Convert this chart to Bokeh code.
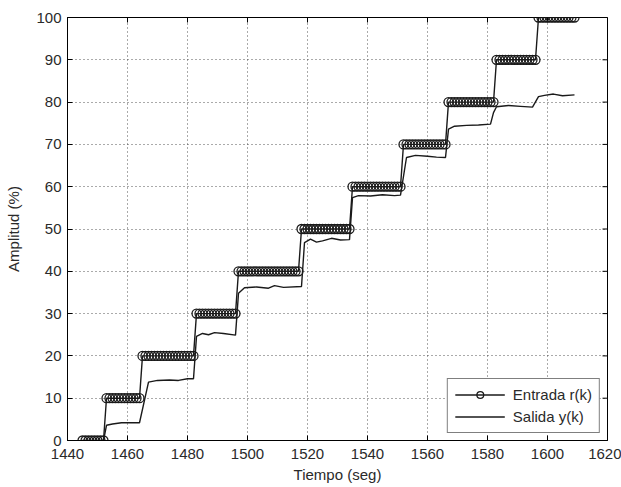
import math
from bokeh.plotting import figure
from bokeh.models import Range1d, FixedTicker, Legend, LegendItem
from bokeh.embed import file_html
from bokeh.resources import INLINE

# ---- data ----
# input r(k): step levels and the sample time where each level starts (1 s sampling)
r_levels = [0, 10, 20, 30, 40, 50, 60, 70, 80, 90, 100]
r_starts = [1445, 1453, 1465, 1483, 1497, 1518, 1535, 1552, 1567, 1583, 1597]
r_last = 1609

# output y(k): breakpoints of the measured response
y_t = [1445, 1452, 1453, 1455, 1458, 1464, 1467, 1470, 1474, 1477, 1480, 1482,
       1483, 1485, 1487, 1489, 1492, 1496,
       1497, 1499, 1503, 1507, 1509, 1512, 1518,
       1519, 1521, 1523, 1525, 1528, 1531, 1534,
       1535, 1537, 1541, 1545, 1549, 1551,
       1553, 1556, 1560, 1563, 1566,
       1567, 1569, 1573, 1577, 1581,
       1582, 1583, 1587, 1591, 1595,
       1597, 1599, 1602, 1605, 1609]
y_v = [0, 0, 3.6, 3.9, 4.2, 4.2, 13.8, 14.2, 14.3, 14.2, 14.6, 14.6,
       24.6, 25.3, 25.0, 25.5, 25.3, 24.9,
       34.8, 36.1, 36.3, 36.0, 36.6, 36.2, 36.4,
       46.8, 47.6, 46.9, 47.2, 47.8, 47.4, 47.5,
       57.4, 57.9, 57.8, 58.1, 57.9, 58.0,
       66.9, 67.4, 67.2, 67.0, 66.9,
       73.6, 74.3, 74.5, 74.6, 74.8,
       77.5, 78.9, 79.2, 79.0, 78.8,
       81.3, 81.6, 81.9, 81.5, 81.7]

x_ticks = [1440, 1460, 1480, 1500, 1520, 1540, 1560, 1580, 1600, 1620]
y_ticks = [0, 10, 20, 30, 40, 50, 60, 70, 80, 90, 100]
x_min, x_max = 1440, 1620
y_min, y_max = 0, 100

# expand the step input into its samples
r_t, r_v = [], []
for i, (lv, st) in enumerate(zip(r_levels, r_starts)):
    en = r_starts[i + 1] - 1 if i + 1 < len(r_starts) else r_last
    for t in range(st, en + 1):
        r_t.append(t)
        r_v.append(lv)

FONT = "Liberation Sans"
TXT = "#2a2a2a"
INK = "#1a1a1a"

p = figure(width=621, height=487, x_range=Range1d(x_min, x_max), y_range=Range1d(y_min, y_max),
           output_backend="svg", toolbar_location=None,
           min_border_left=67, min_border_right=14, min_border_top=17, min_border_bottom=47)

p.outline_line_color = "black"
p.outline_line_alpha = 1.0

for ax, tk in ((p.xaxis[0], x_ticks), (p.yaxis[0], y_ticks)):
    ax.ticker = FixedTicker(ticks=tk)
    ax.major_tick_in = 5
    ax.major_tick_out = 0
    ax.minor_tick_line_color = None
    ax.axis_line_color = "black"
    ax.major_tick_line_color = "black"
    ax.major_label_text_font = FONT
    ax.major_label_text_font_size = "15px"
    ax.major_label_text_color = TXT
    ax.axis_label_text_font = FONT
    ax.axis_label_text_font_size = "15px"
    ax.axis_label_text_font_style = "normal"
    ax.axis_label_text_color = TXT

p.xaxis.axis_label = "Tiempo (seg)"
p.yaxis.axis_label = "Amplitud (%)"
p.xaxis.major_label_standoff = 8
p.xaxis.axis_label_standoff = 4
p.yaxis.major_label_standoff = 6
p.yaxis.axis_label_standoff = 11

for g in (p.xgrid[0], p.ygrid[0]):
    g.grid_line_color = "#444444"
    g.grid_line_dash = "1 3"
    g.grid_line_width = 1
    g.grid_line_alpha = 0.9

# inward tick marks on the top and right edges (half of each dash is clipped by the frame)
p.scatter(x_ticks, [y_max] * len(x_ticks), marker="dash", size=10, angle=math.pi / 2,
          line_color="black", line_width=1)
p.scatter([x_max] * len(y_ticks), y_ticks, marker="dash", size=10, angle=0,
          line_color="black", line_width=1)

r_line = p.line(r_t, r_v, line_color=INK, line_width=1.4)
r_mark = p.scatter(r_t, r_v, marker="circle", size=9, line_color=INK,
                   fill_alpha=0, line_width=1.3)
y_line = p.line(y_t, y_v, line_color=INK, line_width=1.4)

legend = Legend(items=[LegendItem(label="Entrada r(k)", renderers=[r_line, r_mark]),
                       LegendItem(label="Salida y(k)", renderers=[y_line])],
                location="bottom_right")
legend.label_text_font = FONT
legend.label_text_font_size = "15px"
legend.label_text_color = TXT
legend.border_line_color = "black"
legend.border_line_width = 1
legend.background_fill_color = "white"
legend.background_fill_alpha = 1
legend.glyph_width = 50
legend.glyph_height = 17
legend.label_height = 17
legend.label_standoff = 8
legend.spacing = 5
legend.padding = 7
legend.margin = 7
p.add_layout(legend)

open("out.html", "w").write(file_html(p, INLINE))
